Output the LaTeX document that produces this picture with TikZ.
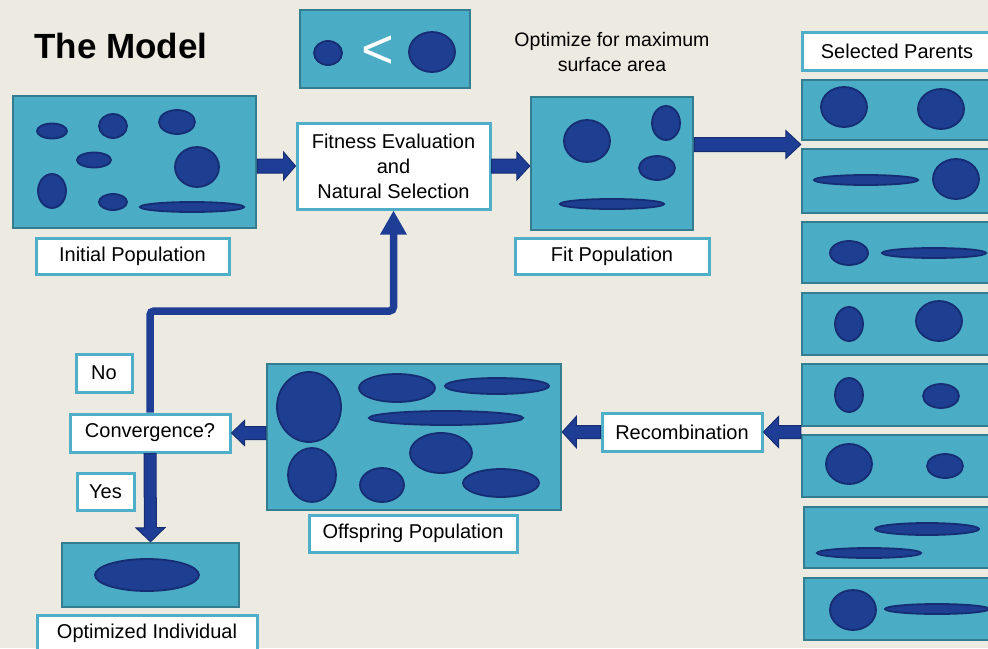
\documentclass[tikz,border=0pt]{standalone}
\usepackage{fontspec}
\setmainfont{Liberation Sans}
\usetikzlibrary{calc,arrows.meta}
\definecolor{bgc}{RGB}{236,234,225}
\definecolor{popfill}{RGB}{75,172,198}
\definecolor{popline}{RGB}{52,125,145}
\definecolor{lblline}{RGB}{80,175,200}
\definecolor{cellfill}{RGB}{30,62,145}
\definecolor{cellline}{RGB}{22,45,115}
\definecolor{arrfill}{RGB}{30,62,150}
\definecolor{arrline}{RGB}{22,45,115}
\tikzset{
  popbox/.style={draw=popline, fill=popfill, line width=2.5pt, inner sep=0pt},
  lbl/.style={draw=lblline, fill=white, line width=3pt, inner sep=0pt, align=center,
    font=\fontsize{20}{25}\selectfont},
  cell/.style={draw=cellline, fill=cellfill, line width=1.8pt},
  barrow/.style={draw=arrline, fill=arrfill, line width=1pt, line join=miter},
  loopline/.style={draw=arrfill, line width=7.5pt, rounded corners=4pt,
    -{Triangle[width=25pt,length=24pt]}}
}
% block arrow: from #1 to #2, shaft half width #3, head half width #4, head length #5
\newcommand{\blockarrow}[5]{%
  \coordinate (bahead) at ($(#2)!#5!(#1)$);
  \filldraw[barrow] ($(#1)!#3!90:(#2)$) -- ($(bahead)!#3!90:(#2)$) --
    ($(bahead)!#4!90:(#2)$) -- (#2) -- ($(bahead)!#4!-90:(#2)$) --
    ($(bahead)!#3!-90:(#2)$) -- ($(#1)!#3!-90:(#2)$) -- cycle;
}
\begin{document}
\begin{tikzpicture}[x=1pt,y=-1pt]
\useasboundingbox (0,0) rectangle (988,648);
\clip (0,0) rectangle (988,648);
\fill[bgc] (0,0) rectangle (988,648);

% title and legend
\node[font=\fontsize{35}{40}\selectfont\bfseries] (title) at (121,46) {The Model};
\node[popbox, minimum width=170pt, minimum height=78pt] (legend) at (385,49) {};
\draw[cell] (328,53) ellipse [x radius=14pt, y radius=12pt];
\draw[cell] (432,52) ellipse [x radius=23pt, y radius=20pt];
\node[text=white, font=\fontsize{56}{56}\selectfont, inner sep=0pt] (lt) at (378,52) {<};
\node[align=center, font=\fontsize{19.5}{25}\selectfont] (goal) at (612,52)
  {Optimize for maximum\\surface area};

% initial population
\node[popbox, minimum width=243pt, minimum height=132pt] (init) at (134.5,162) {};
\draw[cell] (52,131) ellipse [x radius=15pt, y radius=7.5pt];
\draw[cell] (113,126) ellipse [x radius=14pt, y radius=12pt];
\draw[cell] (177,122) ellipse [x radius=18pt, y radius=12pt];
\draw[cell] (94,160) ellipse [x radius=17pt, y radius=7.5pt];
\draw[cell] (197,167) ellipse [x radius=22pt, y radius=20pt];
\draw[cell] (52,191) ellipse [x radius=14pt, y radius=17pt];
\draw[cell] (113,202) ellipse [x radius=14pt, y radius=8pt];
\draw[cell] (192,207) ellipse [x radius=52pt, y radius=5pt];
\node[lbl, minimum width=193pt, minimum height=36pt] (initlbl) at (132.5,256) {Initial Population};

% fitness evaluation
\node[lbl, minimum width=193pt, minimum height=86pt] (fe) at (393.5,166)
  {Fitness Evaluation\\and\\Natural Selection};

% fit population
\node[popbox, minimum width=162pt, minimum height=133pt] (fit) at (612,163.5) {};
\draw[cell] (587,141) ellipse [x radius=23pt, y radius=21pt];
\draw[cell] (666,123) ellipse [x radius=14pt, y radius=17pt];
\draw[cell] (657,168) ellipse [x radius=18pt, y radius=12pt];
\draw[cell] (612,204) ellipse [x radius=52pt, y radius=5pt];
\node[lbl, minimum width=194pt, minimum height=36pt] (fitlbl) at (612,256) {Fit Population};

% selected parents
\node[lbl, minimum width=190pt, minimum height=38pt] (parlbl) at (897,51) {Selected Parents};
\node[popbox, minimum width=200pt, minimum height=60pt] (p1) at (902,110) {};
\node[popbox, minimum width=200pt, minimum height=64pt] (p2) at (902,181) {};
\node[popbox, minimum width=200pt, minimum height=61pt] (p3) at (902,252.5) {};
\node[popbox, minimum width=200pt, minimum height=62pt] (p4) at (902,324) {};
\node[popbox, minimum width=200pt, minimum height=62pt] (p5) at (902,395) {};
\node[popbox, minimum width=200pt, minimum height=62pt] (p6) at (902,466) {};
\node[popbox, minimum width=200pt, minimum height=61pt] (p7) at (904,537.5) {};
\node[popbox, minimum width=200pt, minimum height=62pt] (p8) at (904,609) {};
\draw[cell] (844,107) ellipse [x radius=23pt, y radius=20pt];
\draw[cell] (941,109) ellipse [x radius=23pt, y radius=20pt];
\draw[cell] (866,180) ellipse [x radius=52pt, y radius=5pt];
\draw[cell] (956,179) ellipse [x radius=23pt, y radius=20pt];
\draw[cell] (849,253) ellipse [x radius=19pt, y radius=12pt];
\draw[cell] (934,253) ellipse [x radius=52pt, y radius=5pt];
\draw[cell] (849,324) ellipse [x radius=14pt, y radius=17pt];
\draw[cell] (939,321) ellipse [x radius=23pt, y radius=20pt];
\draw[cell] (849,395) ellipse [x radius=14pt, y radius=17pt];
\draw[cell] (941,396) ellipse [x radius=18pt, y radius=12pt];
\draw[cell] (849,464) ellipse [x radius=23pt, y radius=20pt];
\draw[cell] (945,466) ellipse [x radius=18pt, y radius=12pt];
\draw[cell] (927,529) ellipse [x radius=52pt, y radius=6pt];
\draw[cell] (869,553) ellipse [x radius=52pt, y radius=5pt];
\draw[cell] (853,610) ellipse [x radius=23pt, y radius=20pt];
\draw[cell] (937,609) ellipse [x radius=52pt, y radius=5pt];

% recombination
\node[lbl, minimum width=160pt, minimum height=38pt] (recomb) at (682,432) {Recombination};

% offspring population
\node[popbox, minimum width=294pt, minimum height=146pt] (off) at (414,437) {};
\draw[cell] (309,407) ellipse [x radius=32pt, y radius=35pt];
\draw[cell] (397,388) ellipse [x radius=38pt, y radius=14pt];
\draw[cell] (497,386) ellipse [x radius=52pt, y radius=8pt];
\draw[cell] (446,418) ellipse [x radius=77pt, y radius=7pt];
\draw[cell] (441,453) ellipse [x radius=31pt, y radius=20pt];
\draw[cell] (312,475) ellipse [x radius=24pt, y radius=27pt];
\draw[cell] (382,485) ellipse [x radius=22pt, y radius=17pt];
\draw[cell] (501,483) ellipse [x radius=38pt, y radius=14pt];
\node[lbl, minimum width=208pt, minimum height=37pt] (offlbl) at (413,533.5) {Offspring Population};

% convergence
\node[lbl, minimum width=160pt, minimum height=38pt] (conv) at (150,433) {Convergence?};
\node[lbl, minimum width=56pt, minimum height=38pt] (no) at (104,373) {No};
\node[lbl, minimum width=57pt, minimum height=37pt] (yes) at (105.5,491.5) {Yes};

% optimized individual
\node[popbox, minimum width=177pt, minimum height=64pt] (opt) at (150.5,575) {};
\draw[cell] (147,575) ellipse [x radius=52pt, y radius=16pt];
\node[lbl, minimum width=220pt, minimum height=37pt] (optlbl) at (147,633.5) {Optimized Individual};

% connectors
\coordinate (a1) at (init.east |- fe.west);
\blockarrow{a1}{fe.west}{7pt}{14pt}{12pt}
\coordinate (a2) at (fit.west |- fe.east);
\blockarrow{fe.east}{a2}{7pt}{14pt}{13pt}
\coordinate (pgap) at ($(p1.south west)!0.5!(p2.north west)$);
\coordinate (a3) at (fit.east |- pgap);
\blockarrow{a3}{pgap}{7pt}{14pt}{15pt}
\coordinate (a4) at (p6.north west |- recomb.east);
\blockarrow{a4}{recomb.east}{6.5pt}{15.5pt}{15pt}
\coordinate (a5) at (off.east |- recomb.west);
\blockarrow{recomb.west}{a5}{6.5pt}{15.5pt}{14pt}
\coordinate (a6) at (off.west |- conv.east);
\blockarrow{a6}{conv.east}{6.5pt}{12.5pt}{13pt}
\blockarrow{conv.south}{opt.north}{6pt}{14.5pt}{14pt}
\coordinate (loopy) at (0,311);
\draw[loopline] (conv.north) |- (loopy -| fe.south) -- (fe.south);
\end{tikzpicture}
\end{document}
